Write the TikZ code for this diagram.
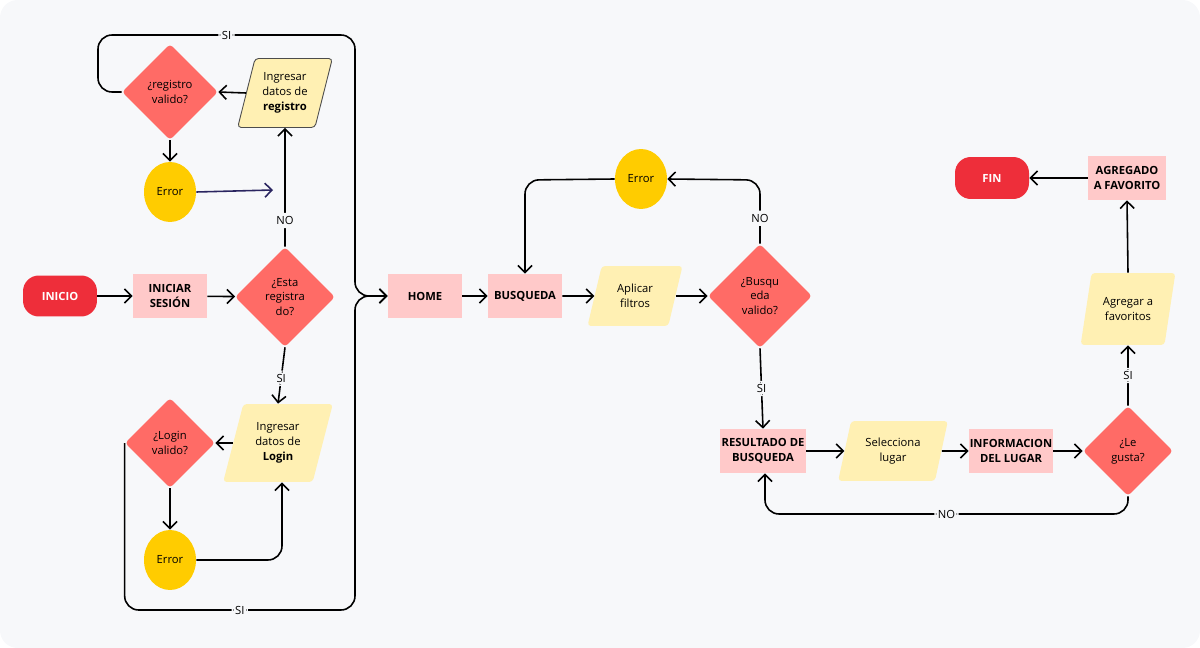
\documentclass[tikz,border=0pt]{standalone}
\usepackage{fontspec}
\setmainfont{Open Sans}
\usetikzlibrary{shapes.geometric,arrows.meta}
\definecolor{BgColor}{HTML}{F7F8FA}
\definecolor{EndColor}{HTML}{EE2E3A}
\definecolor{StepColor}{HTML}{FFC9C9}
\definecolor{QuestionColor}{HTML}{FF6B66}
\definecolor{InputColor}{HTML}{FFF0B3}
\definecolor{ErrorColor}{HTML}{FFCC00}
\definecolor{NavyColor}{HTML}{2A2560}
\tikzstyle{flow-base}=[text centered,
                       inner sep=0pt,
                       font=\fontsize{6.4}{8.5}\selectfont,
                       align=center
                      ]
\tikzstyle{terminal}=[flow-base, rectangle, rounded corners=9pt, fill={EndColor},
                      text=white, font=\fontsize{6.4}{8.5}\selectfont\bfseries,
                      minimum width=1.48cm, minimum height=0.82cm]
\tikzstyle{process}=[flow-base, rectangle, fill={StepColor},
                  font=\fontsize{6.4}{8.5}\selectfont\bfseries,
                  minimum width=1.48cm, minimum height=0.88cm]
\tikzstyle{question}=[flow-base, diamond, fill={QuestionColor}, rounded corners=2pt,
                      minimum width=2.0cm, minimum height=2.0cm]
\tikzstyle{input}=[flow-base, trapezium, trapezium left angle=72, trapezium right angle=108,
                   trapezium stretches=true,
                   fill={InputColor}, rounded corners=2pt,
                   minimum width=1.9cm, minimum height=1.2cm]
\tikzstyle{error}=[flow-base, ellipse, fill={ErrorColor},
                   minimum width=1.04cm, minimum height=1.2cm]
\tikzstyle{flow}=[line width=0.9pt, -{Straight Barb[length=4pt,width=8pt]}, rounded corners=8pt]
\tikzstyle{tag}=[fill={BgColor}, inner sep=2pt, font=\fontsize{6.4}{8}\selectfont]

\begin{document}
\begin{tikzpicture}[x=0.02cm, y=-0.02cm]
\useasboundingbox (0,0) rectangle (1200,648);
\fill[BgColor, rounded corners=10pt] (0,0) rectangle (1200,648);

\node at (60,  296) (inicio)      [terminal]  {INICIO};
\node at (170, 296) (sesion)      [process]   {INICIAR\\SESIÓN};
\node at (285, 297) (registrado)  [question]  {¿Esta\\registra\\do?};
\node at (285, 93)  (datosreg)    [input, draw=black!70, line width=0.5pt, minimum height=1.38cm] {Ingresar\\datos de\\\textbf{registro}};
\node at (170, 92)  (regvalido)   [question, minimum width=1.92cm, minimum height=1.92cm] {¿registro\\valido?};
\node at (170, 192) (errorreg)    [error]     {Error};
\node at (278, 443) (datoslogin)  [input, minimum width=2.2cm, minimum height=1.56cm] {Ingresar\\datos de\\\textbf{Login}};
\node at (170, 443) (loginvalido) [question, minimum width=1.8cm, minimum height=1.8cm] {¿Login\\valido?};
\node at (170, 560) (errorlogin)  [error]     {Error};

\node at (425, 296) (home)        [process]   {HOME};
\node at (525, 296) (busqueda)    [process]   {BUSQUEDA};
\node at (635, 296) (filtros)     [input]     {Aplicar\\filtros};
\node at (760, 296) (busvalido)   [question, minimum width=2.08cm, minimum height=2.08cm] {¿Busqu\\eda\\valido?};
\node at (641, 179) (errorbus)    [error]     {Error};
\node at (763, 451) (resultado)   [process, minimum width=1.72cm] {RESULTADO DE\\BUSQUEDA};
\node at (893, 451) (lugar)       [input, minimum width=2.2cm] {Selecciona\\lugar};
\node at (1011, 451) (info)       [process, minimum width=1.68cm] {INFORMACION\\DEL LUGAR};
\node at (1128, 451) (gusta)      [question, minimum width=1.8cm, minimum height=1.8cm] {¿Le\\gusta?};
\node at (1128, 309) (favoritos)  [input, minimum height=1.44cm] {Agregar a\\favoritos};
\node at (1127, 178) (agregado)   [process, minimum width=1.56cm] {AGREGADO\\A FAVORITO};
\node at (992, 178) (fin)         [terminal, minimum height=0.84cm] {FIN};

\coordinate (busTop)  at (355, 35);
\coordinate (busBot)  at (355, 610);
\coordinate (busMid)  at (355, 296);
\coordinate (regLoop) at (98, 35);
\coordinate (errEnd)  at (273, 190);
\coordinate (errCorner) at (282, 560);
\coordinate (busErr)  at (525, 180);
\coordinate (busNo)   at (760, 180);
\coordinate (noLeft)  at (765, 514);
\coordinate (noRight) at (1128, 514);

\draw[flow] (inicio) -- (sesion);
\draw[flow] (sesion) -- (registrado);
\draw[flow] (registrado.north) -- node[tag, pos=0.22] {NO} (datosreg.south);
\draw[flow] (datosreg.west) -- (regvalido.east);
\draw[flow] (regvalido.south) -- (errorreg.north);
\draw[flow, NavyColor] (errorreg.east) -- (errEnd);
\draw[flow] (registrado.south) -- node[tag, pos=0.55] {SI} (datoslogin.north);
\draw[flow] (datoslogin.west) -- (loginvalido.east);
\draw[flow] (loginvalido.south) -- (errorlogin.north);
\draw[flow] (errorlogin.east) -- (errCorner) -- (datoslogin.south -| errCorner);
\draw[flow] (regvalido.west) -| (regLoop) -- node[tag] {SI} (busTop) -- (busMid) -- (home.west);
\draw[flow] (loginvalido.west) -- (loginvalido.west |- busBot) -- node[tag] {SI} (busBot) -- (busMid) -- (home.west);

\draw[flow] (home) -- (busqueda);
\draw[flow] (busqueda) -- (filtros);
\draw[flow] (filtros) -- (busvalido);
\draw[flow] (busvalido.north) -- node[tag, pos=0.4] {NO} (busNo) -- (errorbus.east);
\draw[flow] (errorbus.west) -- (busErr) -- (busqueda.north);
\draw[flow] (busvalido.south) -- node[tag] {SI} (resultado.north);
\draw[flow] (resultado) -- (lugar);
\draw[flow] (lugar) -- (info);
\draw[flow] (info) -- (gusta);
\draw[flow] (gusta.south) -- (noRight) -- node[tag] {NO} (noLeft) -- (resultado.south -| noLeft);
\draw[flow] (gusta.north) -- node[tag] {SI} (favoritos.south);
\draw[flow] (favoritos.north) -- (agregado.south);
\draw[flow] (agregado.west) -- (fin.east);
\end{tikzpicture}
\end{document}
